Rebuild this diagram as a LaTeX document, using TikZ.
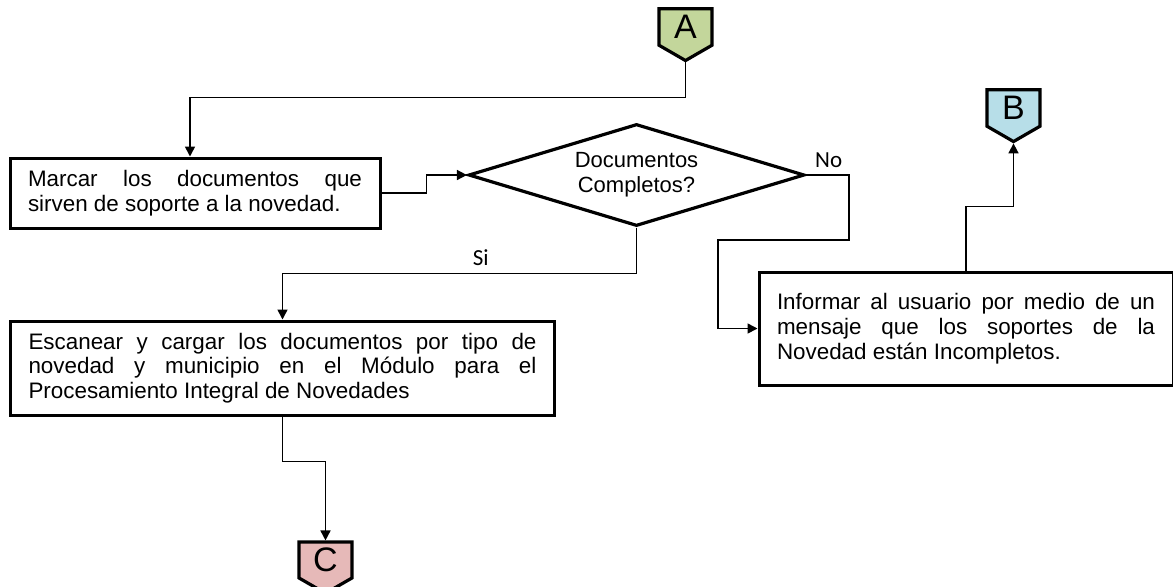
\documentclass[tikz,border=0pt]{standalone}
\usepackage{fontspec}
\setmainfont{Liberation Sans}
\newfontfamily\lblfont{Carlito}
\usepackage{tikz}
\usetikzlibrary{shapes.geometric,shapes.symbols,arrows.meta}
\newcommand\nohyph{\hyphenpenalty=10000\relax}

\begin{document}
\begin{tikzpicture}[x=0.5pt, y=-0.5pt,
    box/.style={draw, line width=1.5pt, fill=white, inner xsep=9pt, align=justify,
      font=\fontsize{11.2}{12.4}\selectfont\nohyph},
    decision/.style={draw, diamond, aspect=3.3, line width=1.6pt, inner sep=0pt, align=center,
      minimum width=168pt, minimum height=51pt, font=\fontsize{11}{12.4}\selectfont},
    tag/.style={draw, signal, signal to=south, signal pointer angle=120, line width=1.6pt,
      minimum width=26.5pt, minimum height=21.5pt, inner sep=0pt, font=\fontsize{17}{17}\selectfont},
    flow/.style={line width=0.8pt, -{Triangle[length=5pt,width=5pt]}},
    lbl/.style={font=\lblfont\fontsize{11.5}{12}\selectfont}]
    \useasboundingbox (0,0) rectangle (1173,586);

    \node[tag, fill={rgb,255:red,195;green,214;blue,155}] (A) at (685.5,27) {A};
    \node[tag, fill={rgb,255:red,183;green,222;blue,232}] (B) at (1013.5,108) {B};
    \node[tag, fill={rgb,255:red,230;green,185;blue,184}] (C) at (325.5,560) {C};

    \node[box, text width=167pt, minimum height=35pt] (marcar) at (195,193)
      {Marcar los documentos que\linebreak sirven de soporte a la novedad.};
    \node[decision] (completos) at (636.5,175) {Documentos\\Completos?};
    \node[box, text width=254pt, minimum height=47pt] (escanear) at (282.5,368)
      {Escanear y cargar los documentos por tipo de\linebreak novedad y municipio en el Módulo para el\linebreak Procesamiento Integral de Novedades};
    \node[box, text width=189pt, minimum height=56.5pt] (informar) at (966,328.5)
      {Informar al usuario por medio de un\linebreak mensaje que los soportes de la\linebreak Novedad están Incompletos.};

    \draw[flow] (A.south) -- ++(0,35) -| ([xshift=-2.5pt]marcar.north);
    \draw[flow] (marcar.east) -- ++(45,0) |- (completos.west);
    \draw[flow] (completos.east) -| ++(43,65) -- ++(-131,0) |- (informar.west);
    \node[lbl, anchor=south west] at ([xshift=1pt]completos.east) {No};
    \draw[flow] (completos.south) -- ++(0,46) -| node[lbl, pos=0.22, above] {Si} (escanear.north);
    \draw[flow] (escanear.south) -- ++(0,45) -| (C.north);
    \draw[flow] (informar.north) -- ++(0,-64) -| (B.south);
\end{tikzpicture}
\end{document}
